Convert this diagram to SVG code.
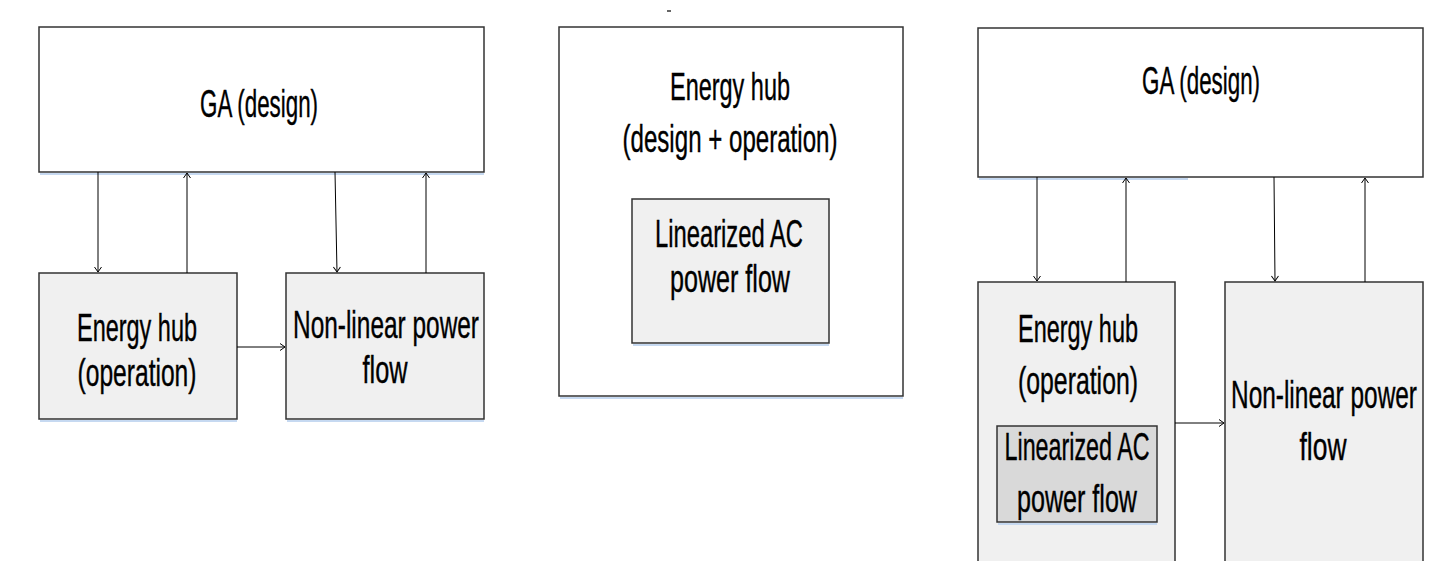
<svg xmlns="http://www.w3.org/2000/svg" width="1442" height="561" viewBox="0 0 1442 561">
<style>
.box{fill:#ffffff;stroke:#333333;stroke-width:1.5}
.fill{fill:#f0f0f0;stroke:#333333;stroke-width:1.5}
.dark{fill:#d9d9d9;stroke:#333333;stroke-width:1.5}
.sh{stroke:#c6d9f1;stroke-width:2;fill:none}
.t{font-family:"Liberation Sans","Open Sans",sans-serif;font-size:38px;fill:#000;stroke:#000;stroke-width:0.4;text-anchor:middle}
.c{stroke:#000;stroke-width:1;fill:none}
</style>
<defs>
<marker id="ah" markerUnits="userSpaceOnUse" markerWidth="10" markerHeight="10" refX="6" refY="4" orient="auto">
<path d="M1,0.5 L6,4 L1,7.5" fill="none" stroke="#000" stroke-width="1"/>
</marker>
</defs>
<rect width="1442" height="561" fill="#ffffff"/>

<!-- Left panel -->
<g id="ga-left">
<line class="sh" x1="40" y1="174" x2="484" y2="174"/>
<rect class="box" x="39" y="27" width="445" height="145"/>
<text class="t" x="259" y="117" textLength="118" lengthAdjust="spacingAndGlyphs">GA (design)</text>
</g>
<g id="hub-left">
<line class="sh" x1="40" y1="421" x2="237" y2="421"/>
<rect class="fill" x="39" y="273" width="198" height="146"/>
<text class="t" x="137" y="341" textLength="120" lengthAdjust="spacingAndGlyphs">Energy hub</text>
<text class="t" x="137" y="386" textLength="119" lengthAdjust="spacingAndGlyphs">(operation)</text>
</g>
<g id="nlpf-left">
<line class="sh" x1="287" y1="421" x2="484" y2="421"/>
<rect class="fill" x="286" y="273" width="198" height="146"/>
<text class="t" x="386" y="338" textLength="186" lengthAdjust="spacingAndGlyphs">Non-linear power</text>
<text class="t" x="385" y="383" textLength="45" lengthAdjust="spacingAndGlyphs">flow</text>
</g>

<!-- Middle panel -->
<g id="hub-middle">
<line class="sh" x1="560" y1="398" x2="903" y2="398"/>
<rect class="box" x="559" y="27" width="344" height="369"/>
<line x1="667" y1="11" x2="671" y2="11" stroke="#000" stroke-width="1.2"/>
<text class="t" x="730" y="100" textLength="120" lengthAdjust="spacingAndGlyphs">Energy hub</text>
<text class="t" x="730" y="152" textLength="215" lengthAdjust="spacingAndGlyphs">(design + operation)</text>
</g>
<g id="lacpf-middle">
<line class="sh" x1="633" y1="345" x2="829" y2="345"/>
<rect class="fill" x="632" y="199" width="197" height="144"/>
<text class="t" x="729" y="247" textLength="148" lengthAdjust="spacingAndGlyphs">Linearized AC</text>
<text class="t" x="730" y="292" textLength="120" lengthAdjust="spacingAndGlyphs">power flow</text>
</g>

<!-- Right panel -->
<g id="ga-right">
<line class="sh" x1="979" y1="179" x2="1188" y2="179"/>
<rect class="box" x="978" y="28" width="445" height="149"/>
<text class="t" x="1201" y="94" textLength="118" lengthAdjust="spacingAndGlyphs">GA (design)</text>
</g>
<g id="hub-right">
<path class="fill" d="M978,562 L978,282 L1175,282 L1175,562"/>
<text class="t" x="1078" y="342" textLength="120" lengthAdjust="spacingAndGlyphs">Energy hub</text>
<text class="t" x="1078" y="394" textLength="120" lengthAdjust="spacingAndGlyphs">(operation)</text>
</g>
<g id="lacpf-right">
<line class="sh" x1="998" y1="524" x2="1157" y2="524"/>
<rect class="dark" x="997" y="426" width="160" height="96"/>
<text class="t" x="1077" y="460" textLength="145" lengthAdjust="spacingAndGlyphs">Linearized AC</text>
<text class="t" x="1077" y="512" textLength="120" lengthAdjust="spacingAndGlyphs">power flow</text>
</g>
<g id="nlpf-right">
<path class="fill" d="M1225,562 L1225,282 L1423,282 L1423,562"/>
<text class="t" x="1324" y="408" textLength="186" lengthAdjust="spacingAndGlyphs">Non-linear power</text>
<text class="t" x="1323" y="460" textLength="47" lengthAdjust="spacingAndGlyphs">flow</text>
</g>

<g id="connectors">
<line class="c" x1="98" y1="172" x2="98" y2="272" marker-end="url(#ah)"/>
<line class="c" x1="187" y1="273" x2="187" y2="173" marker-end="url(#ah)"/>
<line class="c" x1="335" y1="172" x2="337" y2="272" marker-end="url(#ah)"/>
<line class="c" x1="426" y1="273" x2="426" y2="173" marker-end="url(#ah)"/>
<line class="c" x1="237" y1="347" x2="285" y2="347" marker-end="url(#ah)"/>
<line class="c" x1="1037" y1="177" x2="1037" y2="281" marker-end="url(#ah)"/>
<line class="c" x1="1126" y1="282" x2="1126" y2="178" marker-end="url(#ah)"/>
<line class="c" x1="1274" y1="177" x2="1275" y2="281" marker-end="url(#ah)"/>
<line class="c" x1="1365" y1="282" x2="1365" y2="178" marker-end="url(#ah)"/>
<line class="c" x1="1175" y1="423" x2="1224" y2="423" marker-end="url(#ah)"/>
</g>
</svg>
